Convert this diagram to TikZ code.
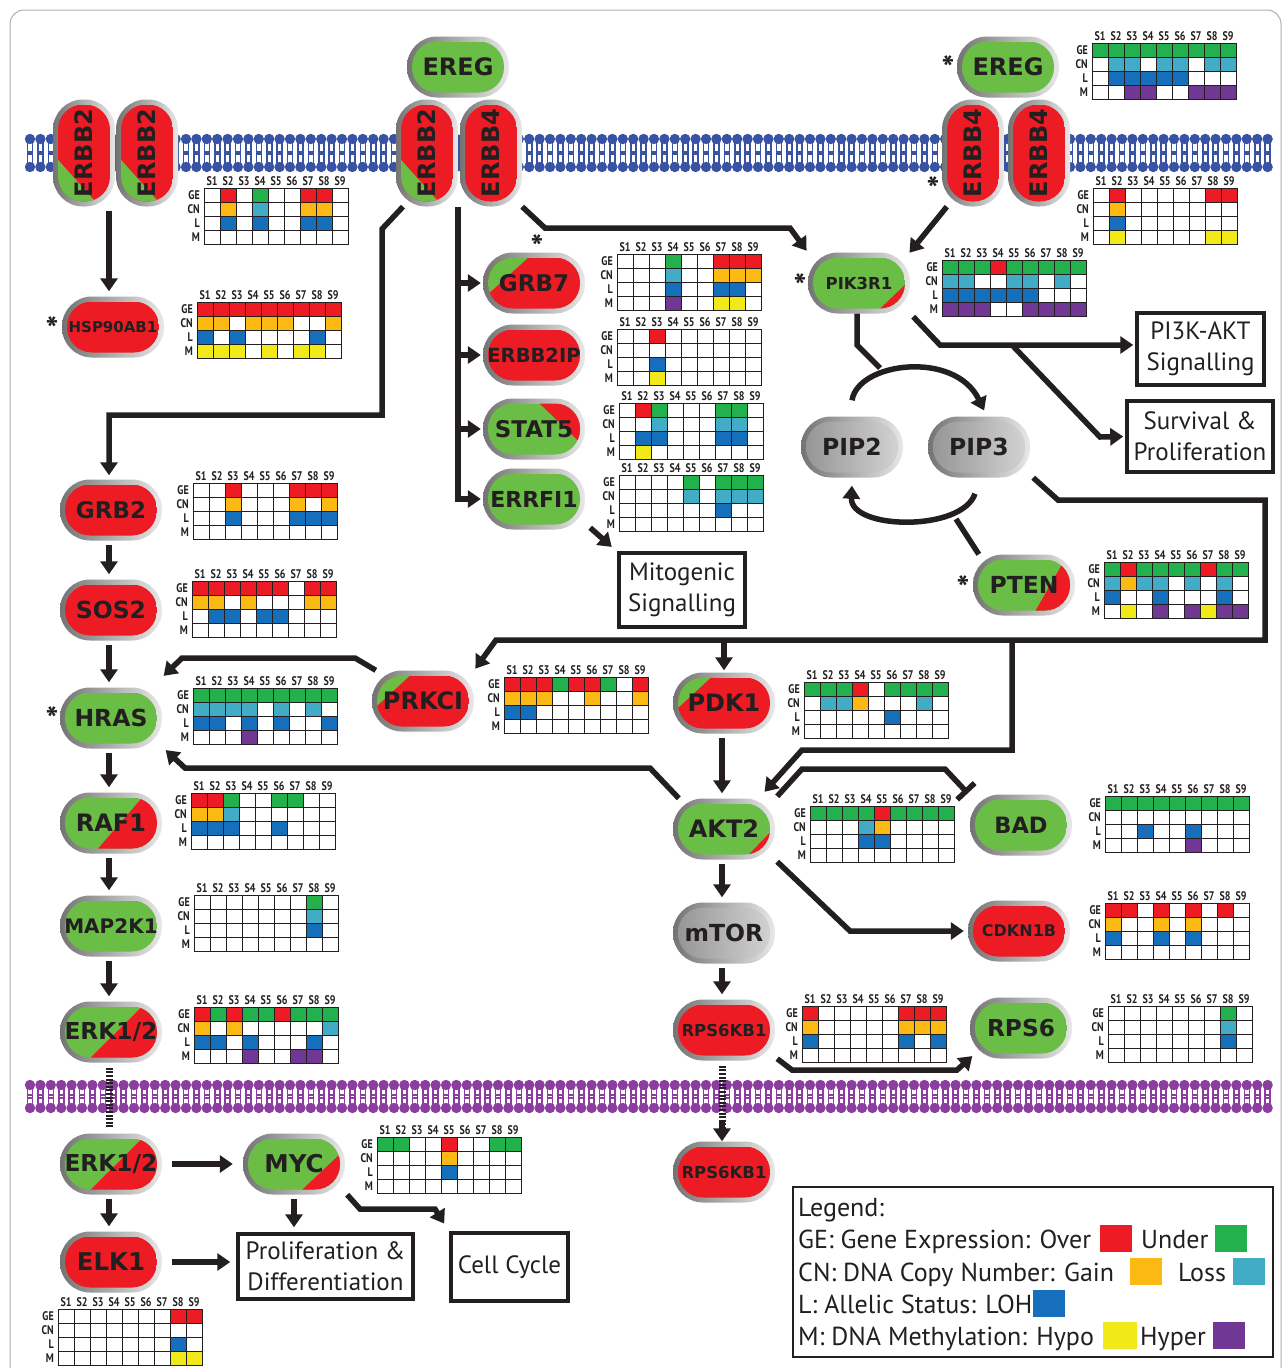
\documentclass[tikz,border=0pt]{standalone}
\usepackage{fontspec}
\usepackage{graphicx}
\setmainfont{PT Sans}
\newfontfamily\djv{DejaVu Sans}
\usetikzlibrary{arrows.meta,calc}
\definecolor{cW}{RGB}{255,255,255}
\definecolor{cR}{RGB}{237,28,36}
\definecolor{cG}{RGB}{34,177,76}
\definecolor{cO}{RGB}{253,185,19}
\definecolor{cC}{RGB}{66,172,198}
\definecolor{cB}{RGB}{21,111,186}
\definecolor{cY}{RGB}{242,234,24}
\definecolor{cP}{RGB}{112,55,148}
\definecolor{nR}{RGB}{237,28,36}
\definecolor{nG}{RGB}{106,189,69}
\definecolor{rimD}{RGB}{115,115,115}
\definecolor{rimL}{RGB}{232,232,232}
\definecolor{gD}{RGB}{150,150,150}
\definecolor{gL}{RGB}{210,210,210}
\definecolor{ink}{RGB}{35,31,32}
\definecolor{memB}{RGB}{57,83,164}
\definecolor{memP}{RGB}{140,62,160}
\definecolor{framec}{RGB}{175,175,175}

\newcommand\pfont[1]{\djv\bfseries\fontsize{#1}{#1}\selectfont}
\newcommand\gf{\bfseries\fontsize{12.5}{12.5}\selectfont}
\newcommand\nar[1]{\scalebox{0.8}[1]{#1}}

% #1 name, #2 x, #3 y, #4 inner w, #5 inner h, #6 base fill, #7 overlay, #8 font size, #9 label
\newcommand\pill[9]{%
  \shade[left color=rimD, right color=rimL, rounded corners=30pt]
    (#2-#4/2-5,#3-#5/2-5) rectangle (#2+#4/2+5,#3+#5/2+5);
  \begin{scope}
    \clip[rounded corners=25pt] (#2-#4/2,#3-#5/2) rectangle (#2+#4/2,#3+#5/2);
    \path[#6] (#2-#4/2,#3-#5/2) rectangle (#2+#4/2,#3+#5/2);
    \begin{scope}[shift={(#2-#4/2,#3-#5/2)}, x=#4pt, y=-#5pt]
      #7
    \end{scope}
  \end{scope}
  \node[inner sep=0pt, minimum width=#4pt+10pt, minimum height=#5pt+10pt, font=\pfont{#8}, text=ink] (#1) at (#2,#3) {#9};
}

\newcommand\membrane[3]{%
  \foreach \mx in {30,40.4,...,1276}{%
    \fill[#1] (\mx,#2) circle (5.2pt);
    \fill[#1] (\mx,#3) circle (5.2pt);
    \draw[#1, line width=1.6pt] (\mx-2.5,#2) -- (\mx-2.5,#2+13) -- (\mx+2.5,#2+13) -- (\mx+2.5,#2)
       (\mx-2.5,#3) -- (\mx-2.5,#3-13) -- (\mx+2.5,#3-13) -- (\mx+2.5,#3);
  }}

\newcommand\sgrid[7]{%
 \begin{scope}[shift={(#2,#3)}]
  \foreach \c [count=\i from 0] in {#4} \draw[cell, fill=c\c] (\i*16,0) rectangle ++(16,14);
  \foreach \c [count=\i from 0] in {#5} \draw[cell, fill=c\c] (\i*16,14) rectangle ++(16,14);
  \foreach \c [count=\i from 0] in {#6} \draw[cell, fill=c\c] (\i*16,28) rectangle ++(16,14);
  \foreach \c [count=\i from 0] in {#7} \draw[cell, fill=c\c] (\i*16,42) rectangle ++(16,14);
  \foreach \i in {1,...,9} \node[hdr] (#1s\i) at (\i*16-8,-7) {\nar{S\i}};
  \node[rlab] (#1ge) at (-4,7) {\nar{GE}};
  \node[rlab] (#1cn) at (-4,21) {\nar{CN}};
  \node[rlab] (#1l) at (-4,35) {\nar{L}};
  \node[rlab] (#1m) at (-4,49) {\nar{M}};
 \end{scope}}

\tikzset{
  cell/.style={draw=ink, line width=0.9pt},
  hdr/.style={font=\gf, inner sep=0pt, text=ink},
  rlab/.style={font=\gf, inner sep=0pt, anchor=east, text=ink},
  conn/.style={draw=ink, line width=5.5pt, -{Triangle[length=13pt,width=17pt]}, shorten >=2pt},
  plain/.style={draw=ink, line width=5.5pt},
  inhib/.style={draw=ink, line width=5.5pt, -{Bar[width=24pt]}},
  striped/.style={draw=ink, line width=7pt, dash pattern=on 2pt off 1.6pt},
  vert/.style={conn, shorten <=4pt, shorten >=5pt},
  tbox/.style={draw=ink, line width=3.5pt, fill=white, align=center, inner sep=0pt, font=\fontsize{25}{31}\selectfont, text=ink},
  ast/.style={font=\bfseries\fontsize{34}{34}\selectfont, inner sep=0pt, text=ink},
  legt/.style={anchor=base west, inner sep=0pt, font=\fontsize{26}{30}\selectfont, text=ink},
  legsq/.style={minimum width=32pt, minimum height=27pt, inner sep=0pt},
}

\begin{document}
\begin{tikzpicture}[x=1pt,y=-1pt]
\useasboundingbox (0,0) rectangle (1283,1368);
\fill[white] (0,0) rectangle (1283,1368);
\draw[framec, line width=1pt, rounded corners=14pt] (10,10) rectangle (1281,1400);

% membranes
\membrane{memB}{139}{167}
\membrane{memP}{1085}{1108}

% ---------- proteins ----------
\def\GLL{\fill[nG] (0,0.57) -- (0.75,1.02) -- (-0.02,1.02) -- cycle;}
\pill{erbbA}{84}{153}{52}{97}{fill=nR}{\GLL}{24}{\rotatebox{90}{ERBB2}}
\pill{erbbB}{147}{153}{52}{97}{fill=nR}{\GLL}{24}{\rotatebox{90}{ERBB2}}
\pill{erbbC}{427}{153}{52}{97}{fill=nR}{\GLL}{24}{\rotatebox{90}{ERBB2}}
\pill{erbbD}{491}{153}{52}{97}{fill=nR}{}{24}{\rotatebox{90}{ERBB4}}
\pill{erbbE}{973}{153}{52}{97}{fill=nR}{}{24}{\rotatebox{90}{ERBB4}}
\pill{erbbF}{1039}{153}{52}{97}{fill=nR}{}{24}{\rotatebox{90}{ERBB4}}
\pill{eregC}{458}{67}{92}{51}{fill=nG}{}{24}{EREG}
\pill{eregR}{1008}{67}{92}{51}{fill=nG}{}{24}{EREG}

\pill{hsp}{113}{327}{92}{51}{fill=nR}{}{15}{HSP90AB1}
\pill{grb7}{534}{283}{92}{51}{fill=nR}{\fill[nG] (-0.02,-0.02) -- (0.45,-0.02) -- (-0.02,0.75) -- cycle;}{23}{GRB7}
\pill{erbb2ip}{534}{355}{92}{51}{fill=nR}{}{19.5}{ERBB2IP}
\pill{stat5}{534}{429}{92}{51}{fill=nG}{\fill[nR] (0.55,-0.02) -- (1.02,-0.02) -- (1.02,0.8) -- cycle;}{23}{STAT5}
\pill{errfi1}{534}{499}{92}{51}{fill=nG}{}{22}{ERRFI1}
\pill{pik3r1}{859}{283}{92}{51}{fill=nG}{\fill[nR] (1.02,0.5) -- (1.02,1.02) -- (0.72,1.02) -- cycle;}{16.5}{PIK3R1}
\pill{pip2}{852}{447}{92}{51}{left color=gD, right color=gL}{}{23.5}{PIP2}
\pill{pip3}{979}{447}{92}{51}{left color=gD, right color=gL}{}{23.5}{PIP3}
\pill{pten}{1024}{585}{92}{51}{fill=nG}{\fill[nR] (0.95,-0.02) -- (1.02,-0.02) -- (1.02,1.02) -- (0.62,1.02) -- cycle;}{23.5}{PTEN}

\pill{grb2}{111}{510}{92}{51}{fill=nR}{}{23}{GRB2}
\pill{sos2}{111}{610}{92}{51}{fill=nR}{}{23.5}{SOS2}
\pill{hras}{111}{718}{92}{51}{fill=nG}{}{23.5}{HRAS}
\pill{prkci}{423}{701}{92}{51}{fill=nR}{\fill[nG] (-0.02,-0.02) -- (0.37,-0.02) -- (-0.02,0.63) -- cycle;}{24}{PRKCI}
\pill{pdk1}{724}{703}{92}{51}{fill=nR}{\fill[nG] (-0.02,-0.02) -- (0.37,-0.02) -- (-0.02,0.63) -- cycle;}{24}{PDK1}
\pill{raf1}{111}{823}{92}{51}{fill=nG}{\fill[nR] (0.85,-0.02) -- (1.02,-0.02) -- (1.02,1.02) -- (0.35,1.02) -- cycle;}{24}{RAF1}
\pill{akt2}{724}{829}{92}{51}{fill=nG}{\fill[nR] (1.02,0.53) -- (1.02,1.02) -- (0.76,1.02) -- cycle;}{24}{AKT2}
\pill{bad}{1021}{825}{92}{51}{fill=nG}{}{22.5}{BAD}
\pill{map2k1}{111}{926}{92}{51}{fill=nG}{}{20}{MAP2K1}
\pill{mtor}{724}{933}{92}{51}{left color=gD, right color=gL}{}{23.5}{mTOR}
\pill{cdkn1b}{1019}{931}{92}{51}{fill=nR}{}{16}{CDKN1B}
\pill{erkA}{111}{1032}{92}{51}{fill=nG}{\fill[nR] (0.85,-0.02) -- (1.02,-0.02) -- (1.02,1.02) -- (0.27,1.02) -- cycle;}{23.3}{ERK1/2}
\pill{rpsA}{724}{1030}{92}{51}{fill=nR}{}{16.5}{RPS6KB1}
\pill{rps6}{1021}{1028}{92}{51}{fill=nG}{}{23.3}{RPS6}
\pill{erkB}{111}{1164}{92}{51}{fill=nG}{\fill[nR] (0.85,-0.02) -- (1.02,-0.02) -- (1.02,1.02) -- (0.27,1.02) -- cycle;}{23.3}{ERK1/2}
\pill{myc}{294}{1164}{92}{51}{fill=nG}{\fill[nR] (1.02,0.27) -- (1.02,1.02) -- (0.58,1.02) -- cycle;}{24.5}{MYC}
\pill{rpsB}{724}{1172}{92}{51}{fill=nR}{}{16.5}{RPS6KB1}
\pill{elk1}{111}{1262}{92}{51}{fill=nR}{}{24.4}{ELK1}

% asterisks
\node[ast] (a1) at (948,68) {*};
\node[ast] (a2) at (933,189) {*};
\node[ast] (a3) at (52,329) {*};
\node[ast] (a4) at (537,247) {*};
\node[ast] (a5) at (800,286) {*};
\node[ast] (a6) at (963,588) {*};
\node[ast] (a7) at (52,719) {*};

% ---------- text boxes ----------
\node[tbox, minimum width=127pt, minimum height=72pt] (pi3k) at (1200.5,349) {PI3K-AKT\\Signalling};
\node[tbox, minimum width=146pt, minimum height=71pt] (surv) at (1200,436.5) {Survival \&\\Proliferation};
\node[tbox, minimum width=126pt, minimum height=74pt] (mito) at (682,590) {Mitogenic\\Signalling};
\node[tbox, minimum width=175pt, minimum height=65pt] (prolif) at (325.5,1266.5) {Proliferation \&\\Differentiation};
\node[tbox, minimum width=117pt, minimum height=68pt] (cellc) at (509.5,1267) {Cell Cycle};

% ---------- grids ----------
\sgrid{gA}{204}{188}{W,R,W,G,W,W,R,R,W}{W,O,W,C,W,W,O,O,W}{W,B,W,B,W,W,B,B,W}{W,W,W,W,W,W,W,W,W}
\sgrid{gB}{197}{302}{R,R,R,R,R,R,R,R,R}{O,O,W,O,O,O,W,W,O}{B,W,B,W,W,W,W,B,W}{Y,Y,Y,W,Y,W,Y,Y,W}
\sgrid{gC}{1092}{43}{G,G,G,G,G,G,G,G,G}{W,C,C,W,C,C,W,C,C}{W,B,B,B,B,B,W,W,W}{W,W,P,P,W,W,P,P,P}
\sgrid{gD}{1093}{188}{W,R,W,W,W,W,W,R,R}{W,O,W,W,W,W,W,W,W}{W,B,W,W,W,W,W,W,W}{W,Y,W,W,W,W,W,Y,Y}
\sgrid{gE}{617}{254}{W,W,W,G,W,W,R,R,R}{W,W,W,C,W,W,O,O,O}{W,W,W,B,W,W,B,B,W}{W,W,W,P,W,W,Y,Y,W}
\sgrid{gF}{617}{329}{W,W,R,W,W,W,W,W,W}{W,W,W,W,W,W,W,W,W}{W,W,B,W,W,W,W,W,W}{W,W,Y,W,W,W,W,W,W}
\sgrid{gG}{619}{403}{W,R,G,W,W,W,G,G,W}{W,W,C,W,W,W,C,C,W}{W,B,B,W,W,W,B,B,W}{W,Y,W,W,W,W,W,W,W}
\sgrid{gH}{619}{475}{W,W,W,W,G,W,G,G,G}{W,W,W,W,C,W,C,C,C}{W,W,W,W,W,W,B,W,W}{W,W,W,W,W,W,W,W,W}
\sgrid{gI}{942}{260}{G,G,G,R,G,G,G,G,G}{C,C,W,W,C,C,W,C,W}{B,B,B,B,B,B,W,W,W}{P,P,P,W,W,P,P,P,P}
\sgrid{gJ}{193}{483}{W,W,R,W,W,W,R,R,R}{W,W,O,W,W,W,O,W,O}{W,W,B,W,W,W,B,B,B}{W,W,W,W,W,W,W,W,W}
\sgrid{gK}{192}{581}{R,R,R,R,R,R,W,R,R}{O,O,W,O,W,W,W,O,O}{W,B,B,W,B,B,W,W,W}{W,W,W,W,W,W,W,W,W}
\sgrid{gL}{193}{688}{G,G,G,G,G,G,G,G,G}{C,C,C,C,W,C,W,C,W}{B,B,W,B,W,B,W,W,B}{W,W,W,P,W,W,W,W,W}
\sgrid{gM}{191}{793}{R,R,G,W,W,G,G,W,W}{O,O,C,W,W,W,W,W,W}{B,B,B,W,W,B,W,W,W}{W,W,W,W,W,W,W,W,W}
\sgrid{gN}{194}{895}{W,W,W,W,W,W,W,G,W}{W,W,W,W,W,W,W,C,W}{W,W,W,W,W,W,W,B,W}{W,W,W,W,W,W,W,W,W}
\sgrid{gO}{194}{1007}{R,G,R,G,G,R,G,G,G}{O,W,O,W,W,W,W,W,C}{B,B,W,B,W,W,W,B,W}{W,W,W,P,W,W,P,P,W}
\sgrid{gP}{504}{677}{R,R,R,G,R,R,G,W,R}{O,O,O,W,W,O,W,W,O}{B,B,W,W,W,W,W,W,W}{W,W,W,W,W,W,W,W,W}
\sgrid{gQ}{804}{682}{G,G,G,R,W,G,G,G,G}{W,C,C,O,W,W,W,C,W}{W,W,W,W,W,B,W,W,W}{W,W,W,W,W,W,W,W,W}
\sgrid{gR}{810}{806}{G,G,G,G,R,G,G,G,G}{W,W,W,C,O,W,W,W,W}{W,W,W,B,B,W,W,W,W}{W,W,W,W,W,W,W,W,W}
\sgrid{gS}{1104}{562}{G,R,G,G,G,G,R,G,G}{C,O,C,C,W,C,W,C,W}{B,W,W,B,W,W,W,B,W}{W,Y,W,P,W,P,Y,P,P}
\sgrid{gT}{1105}{796}{G,G,G,G,G,G,G,G,G}{W,W,W,W,W,W,W,W,W}{W,W,B,W,W,B,W,W,W}{W,W,W,W,W,P,W,W,W}
\sgrid{gU}{1105}{903}{R,R,W,R,W,R,W,R,W}{O,W,W,O,W,O,W,W,W}{B,W,W,B,W,B,W,W,W}{W,W,W,W,W,W,W,W,W}
\sgrid{gV}{1108}{1006}{W,W,W,W,W,W,W,G,W}{W,W,W,W,W,W,W,C,W}{W,W,W,W,W,W,W,B,W}{W,W,W,W,W,W,W,W,W}
\sgrid{gW}{802}{1006}{R,W,W,W,W,W,R,R,R}{O,W,W,W,W,W,O,O,O}{B,W,W,W,W,W,B,W,B}{W,W,W,W,W,W,W,W,W}
\sgrid{gX}{377}{1137}{G,G,W,W,R,W,W,G,G}{W,W,W,W,O,W,W,W,W}{W,W,W,W,B,W,W,W,W}{W,W,W,W,W,W,W,W,W}
\sgrid{gY}{58}{1309}{W,W,W,W,W,W,W,R,R}{W,W,W,W,W,W,W,W,W}{W,W,W,W,W,W,W,B,W}{W,W,W,W,W,W,W,Y,Y}

% ---------- connectors ----------
\draw[vert] ([xshift=-4pt]hsp.north |- erbbA.south) -- ([xshift=-4pt]hsp.north);
\draw[conn, shorten >=4pt] ([xshift=-24pt]erbbC.south) -- (382,229) -- (382,415) -- (109,415) -- ([xshift=-2pt]grb2.north);
\draw[conn] (erbbC.south east) -- (erbbC.south east |- errfi1.west) -- (errfi1.west);
\draw[conn] (erbbC.south east |- grb7.west) -- (grb7.west);
\draw[conn] (erbbC.south east |- erbb2ip.west) -- (erbb2ip.west);
\draw[conn] (erbbC.south east |- stat5.west) -- (stat5.west);
\draw[conn] (erbbD.south east) -- (545,228) -- (790,228) -- (pik3r1.north west);
\draw[conn] ([xshift=5pt]erbbE.south west) -- ([xshift=-2pt,yshift=-2pt]pik3r1.north east);
\draw[conn] ([xshift=5pt,yshift=2pt]errfi1.south east) -- ([xshift=-4pt,yshift=3pt]mito.north west);
\coordinate (k1) at (940,345);
\draw[conn] ([xshift=3pt,yshift=-3pt]pik3r1.south east) -- (k1) -- (k1 -| pi3k.west);
\draw[conn] (1012,345) -- (1100,437) -- (surv.west);
\draw[plain] ([xshift=-2pt]pik3r1.south) -- (857,345) -- (880,368);
\draw[conn] ([yshift=16pt]pip2.north) .. controls (858,362) and (955,350) .. ([xshift=6pt,yshift=4pt]pip3.north);
\draw[conn] ([xshift=-4pt,yshift=-16pt]pip3.south) .. controls (962,532) and (850,530) .. ([yshift=-6pt]pip2.south);
\draw[plain] ([xshift=6pt]pten.north west) -- (956,519);
\draw[conn] ([xshift=3pt]pip3.south east) -- (1058,500) -- (1265,500) -- (1265,640) -- (496,640) -- (prkci.north east);
\coordinate (k2) at (724,640);
\draw[conn] (k2) -- (pdk1.north);
\draw[conn] (1012,640) -- (1012,750) -- (802,750) -- ([xshift=-12pt,yshift=5pt]akt2.north east);
\draw[vert] ([xshift=-2pt]pdk1.south) -- ([xshift=-2pt]akt2.north);
\draw[inhib] ([xshift=2pt,yshift=2pt]akt2.north east) -- (802,769) -- (945,769) -- ([xshift=-2pt,yshift=1pt]bad.north west);
\draw[conn] ([xshift=4pt]prkci.north west) -- (355,658) -- (182,658) -- ([yshift=10pt]hras.north east);
\draw[conn] ([xshift=6pt]akt2.north west) -- (650,768) -- (185,768) -- ([xshift=2pt]hras.south east);
\draw[vert] ([xshift=-2pt]grb2.south) -- ([xshift=-2pt]sos2.north);
\draw[vert] ([xshift=-2pt]sos2.south) -- ([xshift=-2pt]hras.north);
\draw[vert] ([xshift=-2pt]hras.south) -- ([xshift=-2pt]raf1.north);
\draw[vert] ([xshift=-2pt]raf1.south) -- ([xshift=-2pt]map2k1.north);
\draw[vert] ([xshift=-2pt]map2k1.south) -- ([xshift=-2pt]erkA.north);
\draw[striped, shorten <=5pt, shorten >=5pt] ([xshift=-2pt]erkA.south) -- ([xshift=-2pt]erkB.north);
\draw[vert] ([xshift=-2pt]akt2.south) -- ([xshift=-2pt]mtor.north);
\draw[vert] ([xshift=-2pt]mtor.south) -- ([xshift=-2pt]rpsA.north);
\draw[striped, shorten <=5pt, shorten >=12pt] ([xshift=-2pt]rpsA.south) -- ([xshift=-2pt]rpsB.north);
\draw[conn, shorten >=0pt] ([xshift=-2pt]rpsA.south |- 0,1120) -- ([xshift=-2pt]rpsB.north);
\draw[conn] ([xshift=2pt,yshift=2pt]rpsA.south east) -- (792,1070) -- (957,1070) -- ([xshift=4pt,yshift=4pt]rps6.south west);
\draw[conn, shorten >=4pt] ([xshift=2pt,yshift=-2pt]akt2.south east) -- (850,931) -- (cdkn1b.west);
\draw[conn, shorten <=10pt, shorten >=10pt] (erkB.east) -- (myc.west);
\draw[vert] ([xshift=-2pt]erkB.south) -- ([xshift=-2pt]elk1.north);
\draw[vert] (myc.south) -- (myc.south |- prolif.north);
\draw[conn] ([xshift=2pt]myc.south east) -- (360,1209) -- (435,1209) -- ([xshift=-4pt,yshift=6pt]cellc.north west);
\draw[conn, shorten <=10pt, shorten >=6pt] (elk1.east) -- (elk1.east -| prolif.west);

% ---------- legend ----------
\draw[ink, line width=2.5pt] (793,1187) rectangle (1273,1357);
\node[legt] (lg0) at (798,1216) {Legend:};
\node[legt] (lg1) at (798,1248) {GE: Gene Expression: Over};
\node[legsq, fill=cR] (sqR) at (1116,1238) {};
\node[legt] (lg1b) at (1141,1248) {Under};
\node[legsq, fill=cG] (sqG) at (1231,1238) {};
\node[legt] (lg2) at (798,1281) {CN: DNA Copy Number: Gain};
\node[legsq, fill=cO] (sqO) at (1146,1271) {};
\node[legt] (lg2b) at (1178,1281) {Loss};
\node[legsq, fill=cC] (sqC) at (1249,1271) {};
\node[legt] (lg3) at (798,1313) {L: Allelic Status: LOH};
\node[legsq, fill=cB] (sqB) at (1049,1303) {};
\node[legt] (lg4) at (798,1345) {M: DNA Methylation: Hypo};
\node[legsq, fill=cY, minimum width=34pt] (sqY) at (1120,1335) {};
\node[legt] (lg4b) at (1140,1345) {Hyper};
\node[legsq, fill=cP] (sqP) at (1229,1335) {};
\end{tikzpicture}
\end{document}
